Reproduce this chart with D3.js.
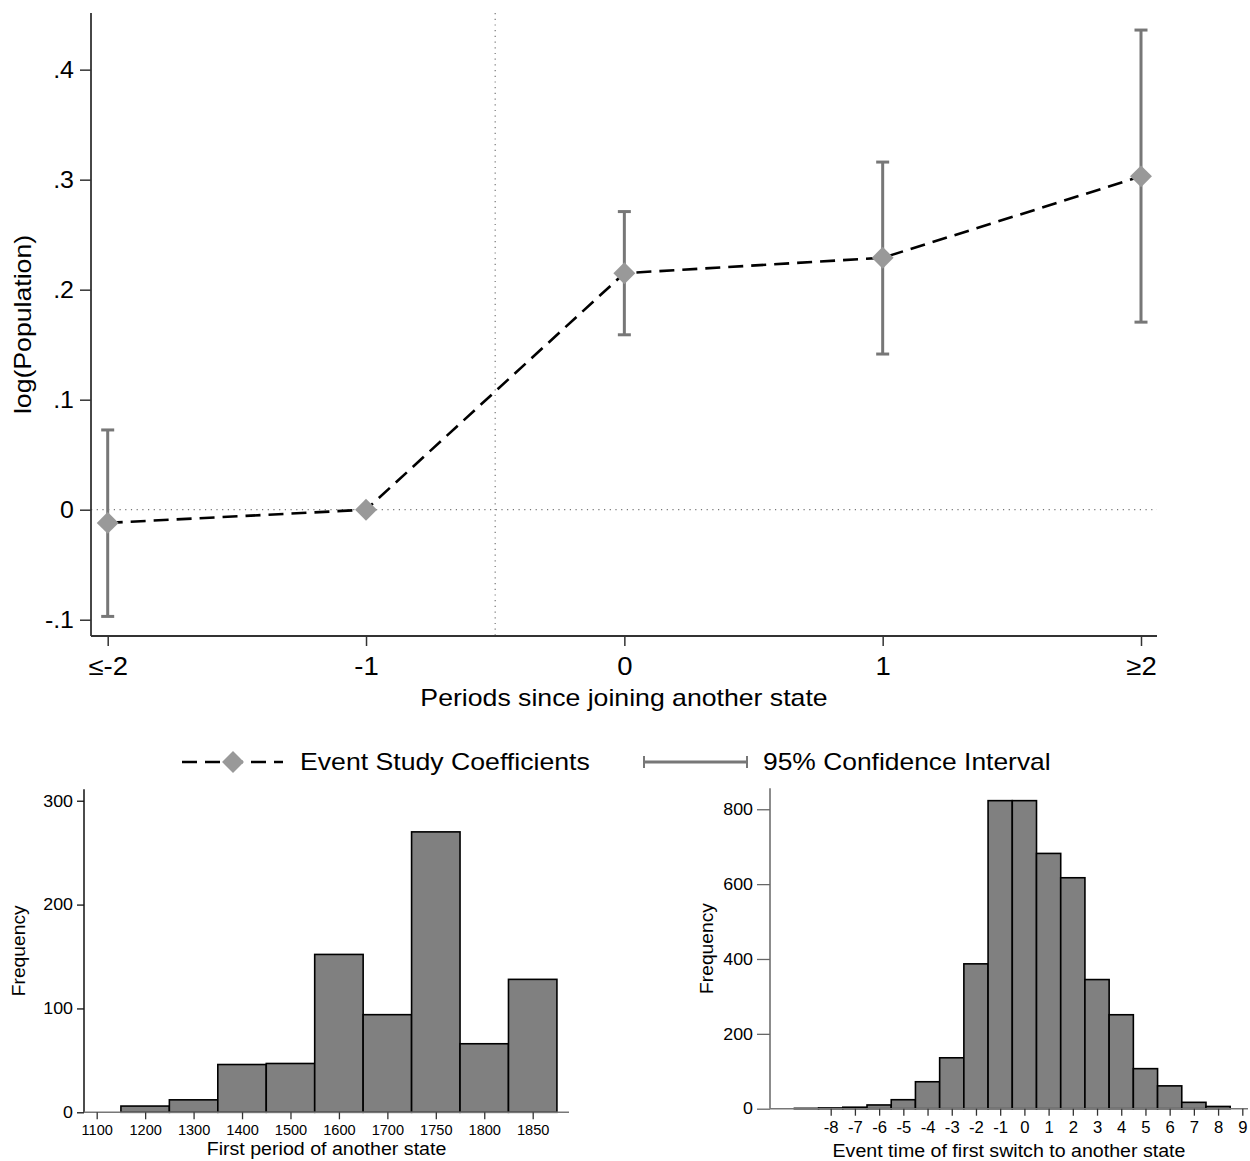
<!DOCTYPE html>
<html>
<head>
<meta charset="utf-8">
<script src="https://cdn.jsdelivr.net/npm/d3@7"></script>
<style>
  html, body { margin: 0; padding: 0; background: #fff; }
  svg { display: block; font-family: "Liberation Sans", Arial, Helvetica, sans-serif; }
</style>
</head>
<body>
<svg id="chart" width="1250" height="1161"></svg>
<script>
// ---- Event study estimates ----
const periods = ["≤-2", "-1", "0", "1", "≥2"];
const coef    = [-0.012, 0, 0.215, 0.229, 0.303];
const ciLow   = [-0.097, null, 0.159, 0.1415, 0.1705];
const ciHigh  = [0.0725, null, 0.271, 0.316, 0.436];
const yTicks      = [-0.1, 0, 0.1, 0.2, 0.3, 0.4];
const yTickLabels = ["-.1", "0", ".1", ".2", ".3", ".4"];

// ---- Histogram: first period of another state ----
const periodBins = ["1100", "1200", "1300", "1400", "1500", "1600", "1700", "1750", "1800", "1850"];
const periodFreq = [0, 6, 12, 46, 47, 152, 94, 270, 66, 128];
const freqTicksA = [0, 100, 200, 300];

// ---- Histogram: event time of first switch ----
const eventTimes = [-9, -8, -7, -6, -5, -4, -3, -2, -1, 0, 1, 2, 3, 4, 5, 6, 7, 8];
const eventFreq  = [1, 2, 4, 10, 24, 72, 136, 387, 823, 823, 682, 617, 345, 251, 107, 61, 17, 6];
const eventTickValues = [-8, -7, -6, -5, -4, -3, -2, -1, 0, 1, 2, 3, 4, 5, 6, 7, 8, 9];
const freqTicksB = [0, 200, 400, 600, 800];

const svg = d3.select("#chart");
const AXIS = "#333";
const FONT = "'Liberation Sans', Arial, sans-serif";

// widen glyphs a little (Helvetica-like set width)
function widen(sel, k) {
  sel.each(function () {
    const w = this.getComputedTextLength();
    d3.select(this).attr("textLength", w * k).attr("lengthAdjust", "spacingAndGlyphs");
  });
  return sel;
}

// ================= Top panel: coefficients with confidence intervals =================
const panel = { left: 91, right: 1157, top: 13, bottom: 636 };
const xEv = d3.scalePoint().domain(periods).range([107.7, 1141]);
const yEv = d3.scaleLinear().domain([-0.1148, 0.4515]).range([panel.bottom, panel.top]);

const gTop = svg.append("g");

// reference lines
gTop.append("line")
  .attr("x1", panel.left).attr("x2", panel.right)
  .attr("y1", yEv(0)).attr("y2", yEv(0))
  .attr("stroke", "#777").attr("stroke-width", 1.2).attr("stroke-dasharray", "1.2,4.5");
const xMid = (xEv("-1") + xEv("0")) / 2;
gTop.append("line")
  .attr("x1", xMid).attr("x2", xMid)
  .attr("y1", panel.top).attr("y2", panel.bottom)
  .attr("stroke", "#777").attr("stroke-width", 1.2).attr("stroke-dasharray", "1.2,4.5");

// y axis
const yAxis = d3.axisLeft(yEv).tickValues(yTicks)
  .tickFormat((d, i) => yTickLabels[i]).tickSize(11).tickPadding(6);
const gy = gTop.append("g").attr("transform", `translate(${panel.left},0)`).call(yAxis);
gy.select(".domain").attr("d", `M0,${panel.top}V${panel.bottom}`).attr("stroke", AXIS).attr("stroke-width", 1.8);
gy.selectAll(".tick line").attr("stroke", AXIS).attr("stroke-width", 1.5);
widen(gy.selectAll(".tick text").attr("font-size", 24).attr("fill", "#000").attr("font-family", FONT), 1.04);

// x axis
const xAxis = d3.axisBottom(xEv).tickSize(10).tickPadding(11);
const gx = gTop.append("g").attr("transform", `translate(0,${panel.bottom})`).call(xAxis);
gx.select(".domain").attr("d", `M${panel.left},0H${panel.right}`).attr("stroke", AXIS).attr("stroke-width", 1.8);
gx.selectAll(".tick line").attr("stroke", AXIS).attr("stroke-width", 1.5);
widen(gx.selectAll(".tick text").attr("font-size", 25).attr("fill", "#000").attr("font-family", FONT), 1.1);

// axis titles
widen(gTop.append("text")
  .attr("x", (panel.left + panel.right) / 2).attr("y", 706)
  .attr("text-anchor", "middle").attr("font-size", 24)
  .text("Periods since joining another state"), 1.11);
widen(gTop.append("text")
  .attr("transform", `translate(31,${(panel.top + panel.bottom) / 2}) rotate(-90)`)
  .attr("text-anchor", "middle").attr("font-size", 24)
  .text("log(Population)"), 1.11);

// confidence intervals
const CI = "#777";
const capHalf = 6.5;
const ciData = periods.map((p, i) => ({ p, lo: ciLow[i], hi: ciHigh[i] })).filter(d => d.lo !== null);
const gCI = gTop.append("g").attr("stroke", CI).attr("stroke-width", 3);
gCI.selectAll("line.ci").data(ciData).join("line").attr("class", "ci")
  .attr("x1", d => xEv(d.p)).attr("x2", d => xEv(d.p))
  .attr("y1", d => yEv(d.lo)).attr("y2", d => yEv(d.hi));
gCI.selectAll("line.capHi").data(ciData).join("line").attr("class", "capHi")
  .attr("x1", d => xEv(d.p) - capHalf).attr("x2", d => xEv(d.p) + capHalf)
  .attr("y1", d => yEv(d.hi)).attr("y2", d => yEv(d.hi));
gCI.selectAll("line.capLo").data(ciData).join("line").attr("class", "capLo")
  .attr("x1", d => xEv(d.p) - capHalf).attr("x2", d => xEv(d.p) + capHalf)
  .attr("y1", d => yEv(d.lo)).attr("y2", d => yEv(d.lo));

// coefficient line
const pts = periods.map((p, i) => ({ p, v: coef[i] }));
gTop.append("path").datum(pts)
  .attr("fill", "none").attr("stroke", "#000").attr("stroke-width", 2.6)
  .attr("stroke-dasharray", "15,8")
  .attr("d", d3.line().x(d => xEv(d.p)).y(d => yEv(d.v)));

// diamond markers
const diamond = d3.symbol().type(d3.symbolSquare).size(240);
gTop.selectAll("path.mk").data(pts).join("path").attr("class", "mk")
  .attr("d", diamond)
  .attr("transform", d => `translate(${xEv(d.p)},${yEv(d.v)}) rotate(45)`)
  .attr("fill", "#999");

// legend
const lg = svg.append("g").attr("font-size", 24);
const ly = 762;
lg.append("line").attr("x1", 182).attr("x2", 283).attr("y1", ly).attr("y2", ly)
  .attr("stroke", "#000").attr("stroke-width", 2.6).attr("stroke-dasharray", "15,8");
lg.append("path").attr("d", diamond)
  .attr("transform", `translate(233,${ly}) rotate(45)`).attr("fill", "#999");
widen(lg.append("text").attr("x", 300).attr("y", ly).attr("dy", "0.35em").text("Event Study Coefficients"), 1.11);
lg.append("line").attr("x1", 644).attr("x2", 747).attr("y1", ly).attr("y2", ly)
  .attr("stroke", CI).attr("stroke-width", 3);
[644, 747].forEach(xx => lg.append("line").attr("x1", xx).attr("x2", xx)
  .attr("y1", ly - 6).attr("y2", ly + 6).attr("stroke", CI).attr("stroke-width", 2));
widen(lg.append("text").attr("x", 763).attr("y", ly).attr("dy", "0.35em").text("95% Confidence Interval"), 1.1);

// ================= Histogram helper =================
function histogram(cfg) {
  const g = svg.append("g");
  const { xs, ys, bars, axisX, axisTop, axisBottom } = cfg;

  // bars
  g.selectAll("rect").data(bars.filter(b => b.f > 0)).join("rect")
    .attr("x", b => xs(b.c) - cfg.bw / 2)
    .attr("width", cfg.bw)
    .attr("y", b => ys(b.f))
    .attr("height", b => ys(0) - ys(b.f))
    .attr("fill", "#808080").attr("stroke", "#000").attr("stroke-width", 1.6);

  // y axis
  const ya = d3.axisLeft(ys).tickValues(cfg.yTicks).tickSize(cfg.yTickSize).tickPadding(4);
  const gya = g.append("g").attr("transform", `translate(${axisX[0]},0)`).call(ya);
  gya.select(".domain").attr("d", `M0,${axisTop}V${axisBottom}`).attr("stroke", cfg.yColor).attr("stroke-width", 1.5);
  gya.selectAll(".tick line").attr("stroke", cfg.yColor).attr("stroke-width", 1.3);
  widen(gya.selectAll(".tick text").attr("font-size", 16.5).attr("fill", "#000").attr("font-family", FONT), 1.08);

  // x axis
  const xa = d3.axisBottom(xs).tickValues(cfg.xTicks)
    .tickFormat(cfg.xFormat).tickSize(7).tickPadding(6);
  const gxa = g.append("g").attr("transform", `translate(0,${axisBottom})`).call(xa);
  gxa.select(".domain").attr("d", `M${axisX[0]},0H${axisX[1]}`).attr("stroke", "#777").attr("stroke-width", 1.5);
  gxa.selectAll(".tick line").attr("stroke", "#333").attr("stroke-width", 1.3);
  widen(gxa.selectAll(".tick text").attr("font-size", cfg.xFont).attr("fill", "#000").attr("font-family", FONT), 1.04);

  // titles
  widen(g.append("text").attr("x", (axisX[0] + axisX[1]) / 2).attr("y", cfg.xTitleY)
    .attr("text-anchor", "middle").attr("font-size", 17.5).text(cfg.xTitle), 1.12);
  widen(g.append("text")
    .attr("transform", `translate(${cfg.yTitleX},${(axisTop + axisBottom) / 2}) rotate(-90)`)
    .attr("text-anchor", "middle").attr("font-size", 17.5).text("Frequency"), 1.1);
}

// left histogram: first period of another state (bins equally spaced by index)
const xsA = d3.scaleLinear().domain([0, periodBins.length - 1]).range([96.7, 532.7]);
histogram({
  xs: xsA,
  ys: d3.scaleLinear().domain([0, 311]).range([1112.3, 789.3]),
  bars: periodFreq.map((f, i) => ({ c: i, f })),
  bw: xsA(1) - xsA(0),
  axisX: [84, 569], axisTop: 789.3, axisBottom: 1112.3,
  yTicks: freqTicksA, yTickSize: 7, yColor: "#111",
  xTicks: d3.range(periodBins.length), xFormat: i => periodBins[i], xFont: 14,
  xTitle: "First period of another state", xTitleY: 1155, yTitleX: 25
});

// right histogram: event time of first switch
const xsB = d3.scaleLinear().domain([-8, 9]).range([830.7, 1242.3]);
histogram({
  xs: xsB,
  ys: d3.scaleLinear().domain([0, 856]).range([1108.7, 788.3]),
  bars: eventTimes.map((t, i) => ({ c: t, f: eventFreq[i] })),
  bw: xsB(1) - xsB(0),
  axisX: [770, 1248], axisTop: 788.3, axisBottom: 1108.7,
  yTicks: freqTicksB, yTickSize: 13, yColor: "#666",
  xTicks: eventTickValues, xFormat: d => String(d), xFont: 16,
  xTitle: "Event time of first switch to another state", xTitleY: 1157, yTitleX: 713
});
</script>
</body>
</html>
